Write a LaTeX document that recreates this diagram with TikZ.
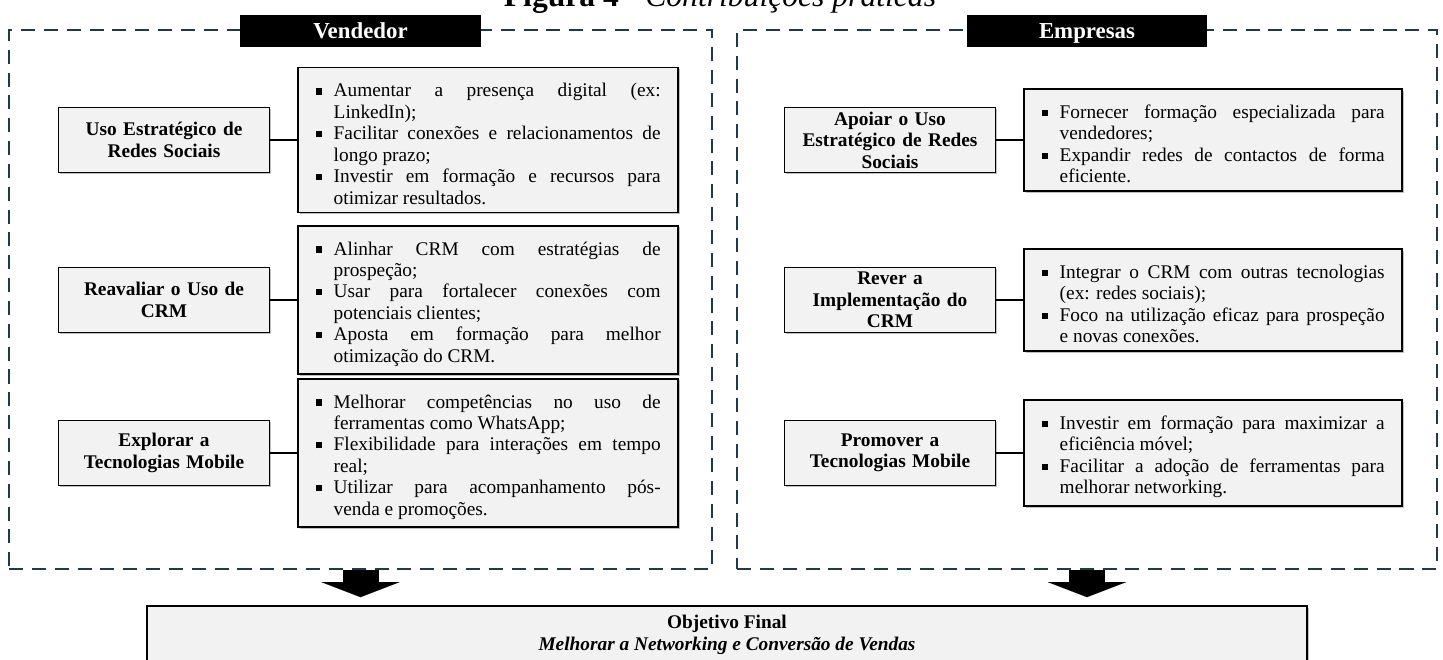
\documentclass[tikz,border=0pt]{standalone}
\usepackage{fontspec}
\setmainfont{Liberation Serif}
\usetikzlibrary{positioning, arrows.meta, shadows}

\definecolor{panelblue}{HTML}{1F3A4D}
\definecolor{boxgray}{HTML}{F2F2F2}

\newcommand{\mkitem}{\par\tolerance=9999\hangindent=0.36cm\hangafter=1\noindent\makebox[0.36cm][l]{\rule[0.28ex]{0.32em}{0.32em}}\ignorespaces}

\begin{document}
\begin{tikzpicture}[
        x=0.02cm, y=-0.02cm,
        node distance=0.54cm,
        panel/.style={draw=panelblue, line width=1.1pt, dash pattern=on 8pt off 5pt, minimum width=14.06cm, minimum height=10.78cm},
        tag/.style={fill=black, text=white, font=\fontsize{13}{15}\selectfont\bfseries, minimum width=4.82cm, minimum height=0.64cm, text height=8.6pt, text depth=0pt, inner sep=0pt, yshift=-0.04cm},
        topic/.style={draw, line width=1pt, fill=boxgray, drop shadow={shadow xshift=1pt, shadow yshift=-1pt, opacity=0.5}, minimum width=4.22cm, minimum height=1.3cm, text width=4cm, align=center, inner sep=1pt, font=\fontsize{11}{12.2}\selectfont\bfseries},
        detail/.style={draw, line width=1pt, fill=boxgray, drop shadow={shadow xshift=1pt, shadow yshift=-1pt, opacity=0.5}, text width=6.9cm, inner xsep=0.35cm, inner ysep=0.16cm, align=justify, font=\fontsize{11}{12.2}\selectfont},
        goal/.style={draw, line width=1pt, fill=boxgray, drop shadow={shadow xshift=1pt, shadow yshift=-1pt, opacity=0.5}, minimum width=23.2cm, minimum height=1.16cm, align=center, font=\fontsize{11}{12.2}\selectfont\bfseries},
        link/.style={line width=1pt},
        bigarrow/.style={line width=0.72cm, -{Triangle[length=0.3cm, width=1.56cm, line width=0.01pt]}, shorten >=0.16cm}
    ]
        \useasboundingbox (0,0) rectangle (1443,659);

        % Caption (cut by the top edge)
        \node[anchor=base, font=\fontsize{18}{20}\selectfont] (caption) at (720,7) {\textbf{Figura 4 -} \textit{Contribuições práticas}};

        % Panels
        \node[panel] (vendPanel) at (360.5,299.5) {};
        \node[panel, minimum width=14cm] (empPanel) at (1087,299.5) {};
        \node[tag] (vendTag) at (vendPanel.north) {Vendedor};
        \node[tag] (empTag) at (empPanel.north) {Empresas};

        % Vendedor
        \node[topic] (vRedes) at (164,140) {Uso Estratégico de\\Redes Sociais};
        \node[detail, right=of vRedes] (vRedesList) {%
            \mkitem Aumentar a presença digital (ex:\linebreak LinkedIn);
            \mkitem Facilitar conexões e relacionamentos de\linebreak longo prazo;
            \mkitem Investir em formação e recursos para\linebreak otimizar resultados.\par};
        \node[topic] (vCRM) at (164,300) {Reavaliar o Uso de\\CRM};
        \node[detail, right=of vCRM] (vCRMList) {%
            \mkitem Alinhar CRM com estratégias de\linebreak prospeção;
            \mkitem Usar para fortalecer conexões com\linebreak potenciais clientes;
            \mkitem Aposta em formação para melhor\linebreak otimização do CRM.\par};
        \node[topic] (vMobile) at (164,453) {Explorar a\\Tecnologias Mobile};
        \node[detail, right=of vMobile] (vMobileList) {%
            \mkitem Melhorar competências no uso de\linebreak ferramentas como WhatsApp;
            \mkitem Flexibilidade para interações em tempo\linebreak real;
            \mkitem Utilizar para acompanhamento pós-\linebreak venda e promoções.\par};

        % Empresas
        \node[topic] (eRedes) at (890,140) {Apoiar o Uso\\Estratégico de Redes\\Sociais};
        \node[detail, text width=6.86cm, right=of eRedes] (eRedesList) {%
            \mkitem Fornecer formação especializada para\linebreak vendedores;
            \mkitem Expandir redes de contactos de forma\linebreak eficiente.\par};
        \node[topic] (eCRM) at (890,300) {Rever a\\Implementação do\\CRM};
        \node[detail, text width=6.86cm, right=of eCRM] (eCRMList) {%
            \mkitem Integrar o CRM com outras tecnologias\linebreak (ex: redes sociais);
            \mkitem Foco na utilização eficaz para prospeção\linebreak e novas conexões.\par};
        \node[topic] (eMobile) at (890,453) {Promover a\\Tecnologias Mobile};
        \node[detail, text width=6.86cm, right=of eMobile] (eMobileList) {%
            \mkitem Investir em formação para maximizar a\linebreak eficiência móvel;
            \mkitem Facilitar a adoção de ferramentas para\linebreak melhorar networking.\par};

        % Goal
        \node[goal] (goal) at (727,635) {Objetivo Final\\\textit{Melhorar a Networking e Conversão de Vendas}};

        % Links
        \draw[link] (vRedes) -- (vRedesList);
        \draw[link] (vCRM) -- (vCRMList);
        \draw[link] (vMobile) -- (vMobileList);
        \draw[link] (eRedes) -- (eRedesList);
        \draw[link] (eCRM) -- (eCRMList);
        \draw[link] (eMobile) -- (eMobileList);

        % Arrows
        \draw[bigarrow] (vendPanel.south) -- (vendPanel.south |- goal.north);
        \draw[bigarrow] (empPanel.south) -- (empPanel.south |- goal.north);
    \end{tikzpicture}
\end{document}
